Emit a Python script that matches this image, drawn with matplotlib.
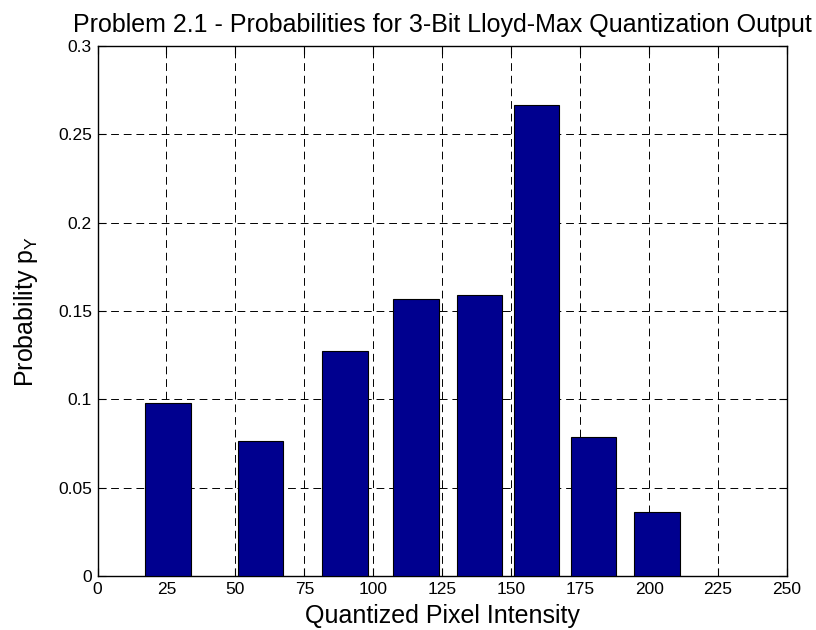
import matplotlib

matplotlib.use("Agg")
import matplotlib.pyplot as plt

# Lloyd-Max reconstruction levels and their probabilities
levels = [25.6, 59.1, 89.7, 115.4, 138.5, 159.1, 179.9, 202.9]
probs = [0.0981, 0.0762, 0.1272, 0.1566, 0.1592, 0.2665, 0.0785, 0.0360]
xticks = [0, 25, 50, 75, 100, 125, 150, 175, 200, 225, 250]
yticks = [0, 0.05, 0.1, 0.15, 0.2, 0.25, 0.3]
ytick_labels = ["0", "0.05", "0.1", "0.15", "0.2", "0.25", "0.3"]

plt.rcParams["font.family"] = ["Liberation Sans", "DejaVu Sans"]

fig = plt.figure(figsize=(8.16, 6.3), dpi=100)
ax = fig.add_axes([0.1195, 0.0857, 0.845, 0.8413])

width = 0.8 * min(b - a for a, b in zip(levels, levels[1:]))
ax.bar(levels, probs, width=width, color="#00008F", edgecolor="black",
       linewidth=0.8, zorder=3)

ax.set_xlim(0, 250)
ax.set_ylim(0, 0.3)
ax.set_xticks(xticks)
ax.set_yticks(yticks)
ax.set_yticklabels(ytick_labels)
ax.tick_params(direction="in", top=True, right=True, labelsize=12.5, length=6,
               pad=4)
ax.grid(True, color="black", linestyle=(0, (8, 5)), linewidth=0.7, zorder=1)
for s in ax.spines.values():
    s.set_linewidth(1.0)

ax.set_title("Problem 2.1 - Probabilities for 3-Bit Lloyd-Max Quantization Output",
             fontsize=18, pad=10)
ax.set_xlabel("Quantized Pixel Intensity", fontsize=18, labelpad=5)
ax.set_ylabel("Probability p$_\\mathregular{Y}$", fontsize=18, labelpad=13)

fig.savefig("out.png", dpi=100)
